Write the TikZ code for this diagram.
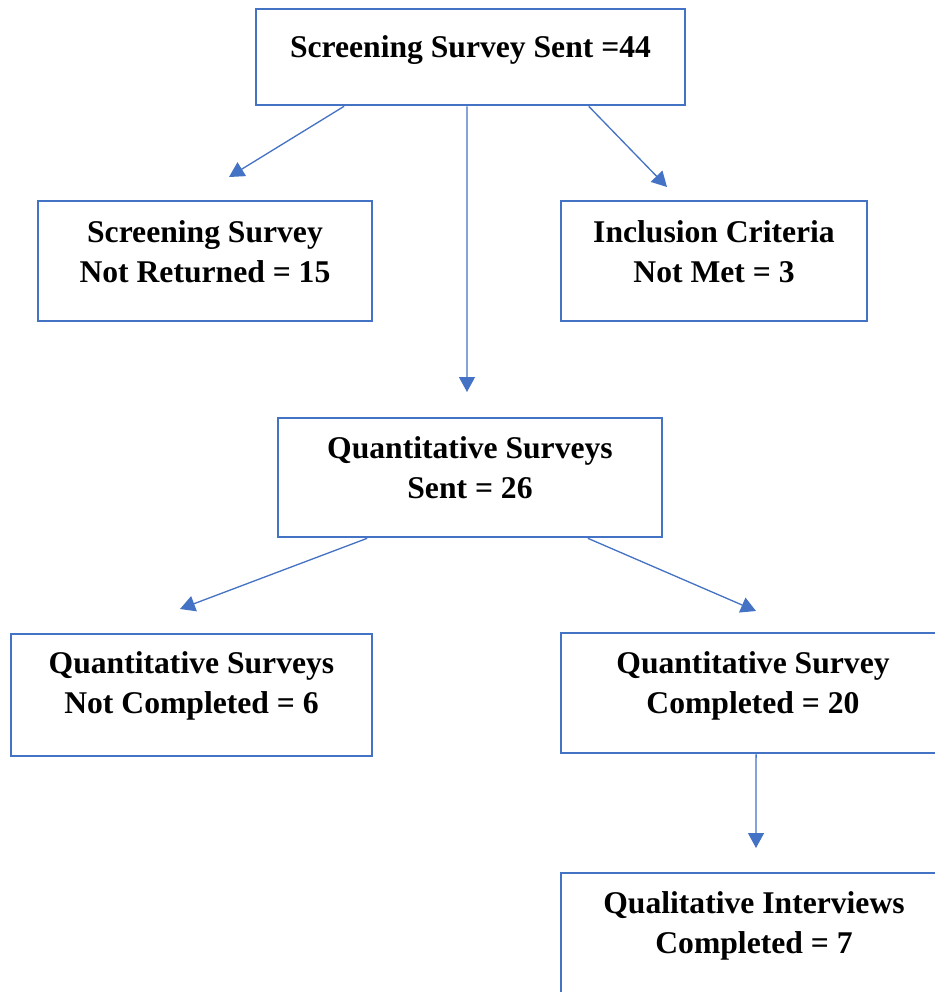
\documentclass[tikz,border=0pt]{standalone}
\usepackage{fontspec}
\setmainfont{Liberation Serif}
\usepackage{tikz}
\usetikzlibrary{arrows.meta, calc}
\definecolor{flowblue}{rgb}{0.267, 0.447, 0.769}

\begin{document}
\begin{tikzpicture}[x=0.02cm, y=-0.02cm]
% Define styles
\tikzset{
  stage box/.style={draw=flowblue, line width=1.5pt, rectangle, inner sep=0pt, fill=white},
  stage text/.style={align=center, inner sep=0pt, anchor=base, font=\fontsize{18pt}{22.7pt}\selectfont\bfseries},
  flow arrow/.style={flowblue, line width=0.75pt, -{Triangle[length=0.3cm, width=0.32cm]}}
}

% Page frame (boxes on the right run off the page)
\useasboundingbox (0,0) rectangle (935,992);
\clip (0,0) rectangle (935,992);

% Boxes
\node[stage box, minimum width=8.58cm, minimum height=1.92cm] (sent) at (470.5,57) {};
\node[stage box, minimum width=6.68cm, minimum height=2.4cm] (notret) at (205,261) {};
\node[stage box, minimum width=6.12cm, minimum height=2.4cm] (notmet) at (714,261) {};
\node[stage box, minimum width=7.68cm, minimum height=2.38cm] (quant) at (470,477.5) {};
\node[stage box, minimum width=7.22cm, minimum height=2.44cm] (notcomp) at (191.5,695) {};
\node[stage box, minimum width=7.68cm, minimum height=2.4cm] (comp) at (753,693) {};
\node[stage box, minimum width=7.72cm, minimum height=2.4cm] (qual) at (754,933) {};

% Texts
\node[stage text] (sentText) at (470.5,57) {Screening Survey Sent =44};
\node[stage text] (notretText) at (205,282) {Screening Survey\\Not Returned = 15};
\node[stage text] (notmetText) at (714,282) {Inclusion Criteria\\Not Met = 3};
\node[stage text] (quantText) at (470,498) {Quantitative Surveys\\Sent = 26};
\node[stage text] (notcompText) at (191.5,713) {Quantitative Surveys\\Not Completed = 6};
\node[stage text] (compText) at (753,713) {Quantitative Survey\\Completed = 20};
\node[stage text] (qualText) at (754,953) {Qualitative Interviews\\Completed = 7};

% Arrow tips
\coordinate (notretTip) at (229,177);
\coordinate (notmetTip) at (667,187);
\coordinate (quantTip) at (467,392);
\coordinate (notcompTip) at (180,609);
\coordinate (compTip) at (756,611);
\coordinate (qualTip) at (756,848);

% Draw arrows
\draw[flow arrow] ($(sent.south west)!0.207!(sent.south east)$) -- (notretTip);
\draw[flow arrow] ($(sent.south west)!0.774!(sent.south east)$) -- (notmetTip);
\draw[flow arrow] ($(sent.south west)!0.492!(sent.south east)$) -- (quantTip);
\draw[flow arrow] ($(quant.south west)!0.234!(quant.south east)$) -- (notcompTip);
\draw[flow arrow] ($(quant.south west)!0.805!(quant.south east)$) -- (compTip);
\draw[flow arrow] ($(comp.south west)!0.508!(comp.south east)$) -- (qualTip);
\end{tikzpicture}
\end{document}
